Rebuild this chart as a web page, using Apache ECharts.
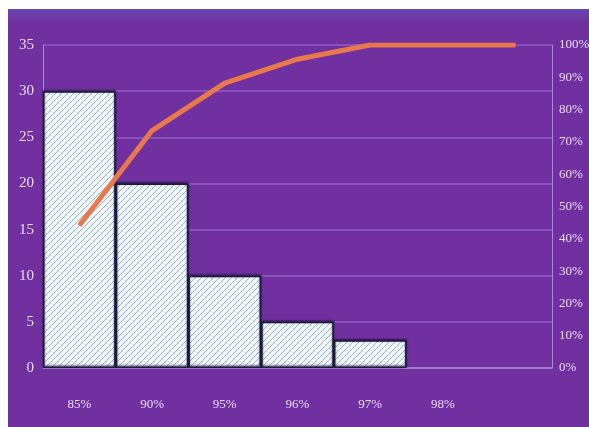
<!DOCTYPE html>
<html>
<head>
<meta charset="utf-8">
<script src="https://cdn.jsdelivr.net/npm/echarts@6/dist/echarts.min.js"></script>
<style>
  html, body { margin: 0; padding: 0; background: #ffffff; }
  #main { position: absolute; left: 8px; top: 9px; width: 581px; height: 418px; }
</style>
</head>
<body>
<div id="main"></div>
<script>
// categories (last slot is blank)
const categories = ['85%', '90%', '95%', '96%', '97%', '98%', ''];
// counts per category
const counts = [30, 20, 10, 5, 3, '-', '-'];
// cumulative percent
const cumulative = [44.1, 73.5, 88.2, 95.6, 100, 100, 100];

// hatch pattern for the bars
const hatch = document.createElement('canvas');
hatch.width = 6;
hatch.height = 6;
const hc = hatch.getContext('2d');
hc.fillStyle = '#eef6fa';
hc.fillRect(0, 0, 6, 6);
hc.strokeStyle = '#9db3c6';
hc.lineWidth = 1;
hc.beginPath();
hc.moveTo(0, 6); hc.lineTo(6, 0);
hc.moveTo(-3, 3); hc.lineTo(3, -3);
hc.moveTo(3, 9); hc.lineTo(9, 3);
hc.stroke();

const labelColor = '#e8dcf6';

let chartDom = document.getElementById('main');
let myChart = echarts.init(chartDom);
let option = {
  backgroundColor: new echarts.graphic.LinearGradient(0, 0, 0, 1, [
    { offset: 0, color: '#6848b4' },
    { offset: 0.03, color: '#7030a0' },
    { offset: 1, color: '#7030a0' }
  ]),
  animation: false,
  grid: { left: 35, right: 37, top: 36, bottom: 59, outerBoundsMode: 'none' },
  xAxis: {
    type: 'category',
    data: categories,
    axisLine: { lineStyle: { color: '#a88ad8', width: 1.5 } },
    axisTick: { show: false },
    axisLabel: { margin: 30, fontSize: 13, color: labelColor, fontFamily: 'Liberation Serif' }
  },
  yAxis: [
    {
      type: 'value',
      min: 0,
      max: 35,
      interval: 5,
      axisLine: { show: true, lineStyle: { color: '#a88ad8' } },
      axisTick: { show: false },
      axisLabel: { margin: 9, fontSize: 15, color: labelColor, fontFamily: 'Liberation Serif' },
      splitLine: { lineStyle: { color: '#8d5cc6', width: 1.5 } }
    },
    {
      type: 'value',
      min: 0,
      max: 100,
      interval: 10,
      axisLine: { show: true, lineStyle: { color: '#a88ad8' } },
      axisTick: { show: false },
      axisLabel: { margin: 7, formatter: '{value}%', fontSize: 13, color: labelColor, fontFamily: 'Liberation Serif' },
      splitLine: { show: false }
    }
  ],
  series: [
    {
      name: 'count',
      type: 'bar',
      data: counts,
      barCategoryGap: '0%',
      itemStyle: {
        color: { image: hatch, repeat: 'repeat' },
        borderColor: '#1e1a3c',
        borderWidth: 1.5,
        shadowColor: 'rgba(20,15,50,0.8)',
        shadowBlur: 2,
        shadowOffsetY: -1
      }
    },
    {
      name: 'cumulative',
      type: 'line',
      yAxisIndex: 1,
      data: cumulative,
      symbol: 'none',
      lineStyle: { color: '#e8794a', width: 5 },
      z: 5
    }
  ]
};
option && myChart.setOption(option);
window.addEventListener('resize', () => {
  myChart.resize();
});
</script>
</body>
</html>
